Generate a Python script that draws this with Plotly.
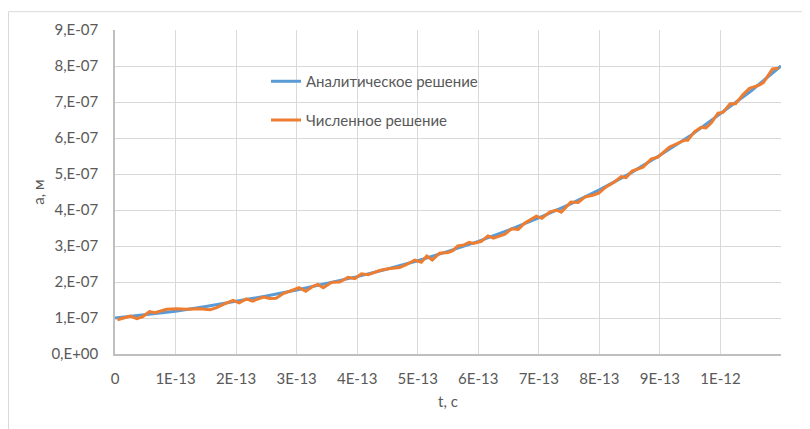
import plotly.graph_objects as go

# Analytical solution, t in seconds, a in metres
t_analytic = [0, 0.5e-13, 1e-13, 1.5e-13, 2e-13, 2.5e-13, 3e-13, 3.5e-13, 4e-13, 4.5e-13,
              5e-13, 5.5e-13, 6e-13, 6.5e-13, 7e-13, 7.5e-13, 8e-13, 8.5e-13, 9e-13,
              9.5e-13, 1e-12, 1.05e-12, 1.1e-12]
a_analytic = [1.00e-7, 1.09e-7, 1.19e-7, 1.32e-7, 1.46e-7, 1.61e-7, 1.78e-7, 1.96e-7,
              2.15e-7, 2.36e-7, 2.59e-7, 2.85e-7, 3.13e-7, 3.44e-7, 3.78e-7, 4.15e-7,
              4.56e-7, 5.01e-7, 5.52e-7, 6.06e-7, 6.67e-7, 7.30e-7, 8.00e-7]

# Numerical solution: t in units of 1e-14 s, a in units of 1e-7 m
t_numeric_e14 = [0.4, 2.5, 3.6, 4.6, 5.7, 6.6, 8.5, 10.2, 11.8, 14.0, 15.7, 16.8, 17.9, 19.5,
                 20.5, 21.7, 22.7, 24.5, 25.6, 26.6, 27.8, 30.4, 31.5, 32.7, 33.5, 34.4, 35.8,
                 37.1, 38.5, 39.6, 40.7, 41.8, 43.7, 45.1, 47.0, 48.1, 49.5, 50.6, 51.5, 52.4,
                 53.6, 55.0, 55.8, 56.6, 57.5, 58.5, 59.2, 60.5, 61.6, 62.5, 64.4, 65.5, 66.6,
                 67.7, 69.6, 70.5, 71.8, 72.9, 73.7, 75.3, 76.5, 77.6, 78.9, 79.9, 81.1, 82.5,
                 83.6, 84.4, 85.4, 87.2, 88.6, 89.6, 91.6, 92.7, 94.1, 94.6, 95.7, 96.8, 97.6,
                 98.5, 99.6, 100.4, 101.6, 102.5, 103.7, 104.8, 106.4, 107.1, 108.6, 109.6]
a_numeric_e7 = [0.95, 1.05, 0.98, 1.04, 1.18, 1.15, 1.24, 1.26, 1.24, 1.26, 1.23, 1.29, 1.38, 1.49,
                1.42, 1.53, 1.47, 1.58, 1.54, 1.55, 1.68, 1.84, 1.74, 1.88, 1.93, 1.84, 1.99,
                2.00, 2.13, 2.09, 2.23, 2.20, 2.32, 2.37, 2.40, 2.48, 2.61, 2.55, 2.72, 2.61,
                2.80, 2.82, 2.87, 3.00, 3.02, 3.10, 3.07, 3.13, 3.28, 3.22, 3.33, 3.48, 3.46,
                3.64, 3.83, 3.77, 3.94, 4.00, 3.94, 4.22, 4.21, 4.36, 4.41, 4.47, 4.64, 4.78,
                4.93, 4.90, 5.08, 5.19, 5.42, 5.46, 5.75, 5.83, 5.94, 5.94, 6.17, 6.30, 6.28,
                6.42, 6.69, 6.71, 6.95, 6.95, 7.20, 7.38, 7.47, 7.54, 7.92, 7.94]

t_numeric = [v * 1e-14 for v in t_numeric_e14]
a_numeric = [v * 1e-7 for v in a_numeric_e7]

x_tickvals = [0, 1e-13, 2e-13, 3e-13, 4e-13, 5e-13, 6e-13, 7e-13, 8e-13, 9e-13, 1e-12, 1.1e-12]
x_ticktext = ["0", "1E-13", "2E-13", "3E-13", "4E-13", "5E-13", "6E-13", "7E-13", "8E-13",
              "9E-13", "1E-12", ""]
y_tickvals = [0, 1e-7, 2e-7, 3e-7, 4e-7, 5e-7, 6e-7, 7e-7, 8e-7, 9e-7]
y_ticktext = ["0,E+00", "1,E-07", "2,E-07", "3,E-07", "4,E-07", "5,E-07", "6,E-07",
              "7,E-07", "8,E-07", "9,E-07"]

BLUE = "#5B9BD5"
ORANGE = "#ED7D31"
GREY_TXT = "#595959"
GRID = "#D9D9D9"
FONT = "Lato, Liberation Sans, sans-serif"
FS = 15

# page has an 8px body margin: figure is laid out in page coords minus 8
OFF = 8
W, H = 802, 421
L, T = 115 - OFF, 27 - OFF
RIGHT, BOTTOM = 781 - OFF, 354 - OFF
pw, ph = RIGHT - L, BOTTOM - T


def px(x):
    return (x - OFF - L) / pw


def py(y):
    return (BOTTOM - (y - OFF)) / ph


fig = go.Figure()
fig.add_trace(go.Scatter(x=t_analytic, y=a_analytic, mode="lines",
                         name="Аналитическое решение", showlegend=True,
                         line=dict(color=BLUE, width=3), legend="legend"))
fig.add_trace(go.Scatter(x=t_numeric, y=a_numeric, mode="lines",
                         name="Численное решение", showlegend=True,
                         line=dict(color=ORANGE, width=3), legend="legend2"))

fig.update_layout(
    width=W, height=H,
    margin=dict(l=L, r=W - RIGHT, t=T, b=H - BOTTOM),
    paper_bgcolor="white", plot_bgcolor="white",
    font=dict(family=FONT, size=FS, color=GREY_TXT),
    showlegend=True,
    legend=dict(x=px(266), y=py(79), xanchor="left", yanchor="middle",
                bgcolor="rgba(0,0,0,0)", font=dict(size=FS, color=GREY_TXT), visible=True),
    legend2=dict(x=px(266), y=py(118), xanchor="left", yanchor="middle",
                 bgcolor="rgba(0,0,0,0)", font=dict(size=FS, color=GREY_TXT), visible=True),
    shapes=[dict(type="rect", xref="paper", yref="paper",
                 x0=px(8.5), x1=px(815), y0=py(435), y1=py(8.5),
                 line=dict(color=GRID, width=1), layer="below")],
)
fig.update_xaxes(range=[0, 1.1e-12], tickvals=x_tickvals, ticktext=x_ticktext,
                 showgrid=True, gridcolor=GRID, gridwidth=1,
                 showline=True, linecolor="#BFBFBF", linewidth=1.5,
                 ticks="outside", ticklen=10, tickcolor="rgba(0,0,0,0)",
                 zeroline=False, mirror=False,
                 title=dict(text="t, c", font=dict(size=FS, color=GREY_TXT), standoff=11))
fig.update_yaxes(range=[0, 9e-7], tickvals=y_tickvals, ticktext=y_ticktext,
                 showgrid=True, gridcolor=GRID, gridwidth=1,
                 showline=True, linecolor="#BFBFBF", linewidth=1.5,
                 ticks="outside", ticklen=12, tickcolor="rgba(0,0,0,0)",
                 zeroline=False,
                 title=dict(text="a, м", font=dict(size=FS, color=GREY_TXT), standoff=3))

fig.write_html("out.html")
